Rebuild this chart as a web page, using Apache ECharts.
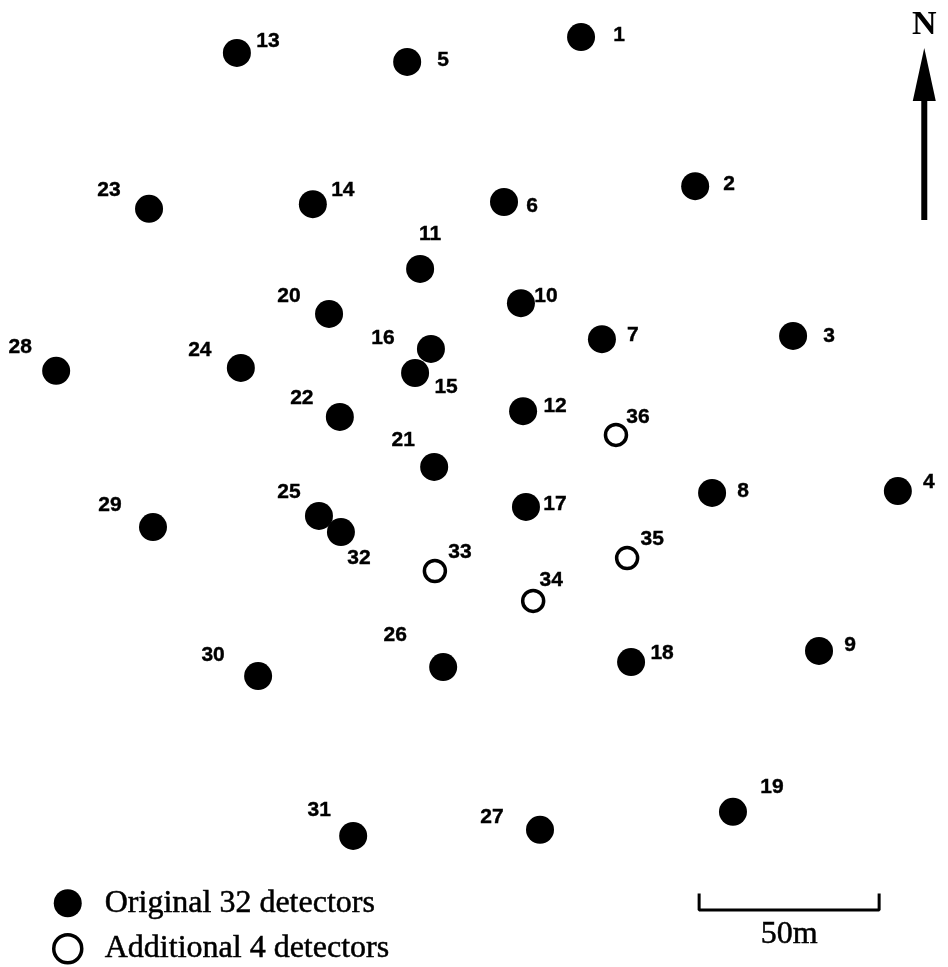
<!DOCTYPE html>
<html>
<head>
<meta charset="utf-8">
<title>Detector layout</title>
<script src="https://cdn.jsdelivr.net/npm/echarts@6/dist/echarts.min.js"></script>
<style>
  html, body { margin: 0; padding: 0; background: #fff; }
  #chart { width: 948px; height: 967px; }
</style>
</head>
<body>
<div id="chart"></div>
<script>
// Detector positions in metres (east, north) from the south-west corner of the plotted area.
const ORIG_ID = [1, 2, 3, 4, 5, 6, 7, 8, 9, 10, 11, 12, 13, 14, 15, 16,
                 17, 18, 19, 20, 21, 22, 23, 24, 25, 26, 27, 28, 29, 30, 31, 32];
const ORIG_E = [161.4, 193.1, 220.3, 249.4, 113.1, 140.0, 167.2, 197.8, 227.5, 144.7, 116.7, 145.3, 65.8, 86.9, 115.3, 119.7,
                146.1, 175.3, 203.6, 91.4, 120.6, 94.4, 41.4, 66.9, 88.6, 123.1, 150.0, 15.6, 42.5, 71.7, 98.1, 94.7];
const ORIG_N = [258.3, 216.9, 175.3, 132.2, 251.4, 212.5, 174.4, 131.7, 87.8, 184.4, 193.9, 154.4, 253.9, 211.9, 165.0, 171.7,
                127.8, 84.7, 43.1, 181.4, 138.9, 152.8, 210.6, 166.4, 125.3, 83.3, 38.1, 165.6, 122.2, 80.8, 36.4, 120.8];

const ADD_ID = [33, 34, 35, 36];
const ADD_E = [120.8, 148.1, 174.2, 171.1];
const ADD_N = [110.0, 101.7, 113.6, 147.8];

const SERIES_NAMES = ['Original 32 detectors', 'Additional 4 detectors'];
const SCALE_LENGTH_M = 50;
const SCALE_LABEL = '50m';
const NORTH_LABEL = 'N';

// Plot extent in metres (3.6 px per metre on the 948 x 967 canvas).
const EXTENT_E = 263.33;
const EXTENT_N = 268.61;

// Where each number label sits relative to its marker (pixels).
const LABEL_OFFSET = {
  1: [38, -2], 2: [34, -2], 3: [36, 0], 4: [31, -9], 5: [36, -2], 6: [28, 4],
  7: [31, -4], 8: [31, -2], 9: [31, -6], 10: [25, -7], 11: [10, -35], 12: [32, -5],
  13: [31, -12], 14: [30, -14], 15: [31, 14], 16: [-48, -11], 17: [29, -3], 18: [31, -9],
  19: [39, -25], 20: [-40, -18], 21: [-31, -27], 22: [-38, -19], 23: [-40, -19], 24: [-41, -18],
  25: [-30, -24], 26: [-48, -32], 27: [-48, -13], 28: [-36, -24], 29: [-43, -22], 30: [-45, -21],
  31: [-34, -26], 32: [18, 26], 33: [25, -19], 34: [18, -21], 35: [25, -19], 36: [22, -18]
};

// Scale bar anchor (metres) and tick height.
const SCALE_START = [194.2, 15.8];
const SCALE_TICK = 4.6;

const SERIF = 'Liberation Serif, Times New Roman, serif';
const labelFont = {
  fontFamily: 'Liberation Sans, Arial, sans-serif', fontWeight: 'bold', fontSize: 21, color: '#000',
  textBorderColor: '#000', textBorderWidth: 0.4
};

function points(ids, es, ns) {
  return ids.map((id, i) => ({
    value: [es[i], ns[i], id],
    label: { offset: LABEL_OFFSET[id] }
  }));
}

const scaleBar = [
  [SCALE_START[0], SCALE_START[1] + SCALE_TICK],
  [SCALE_START[0], SCALE_START[1]],
  [SCALE_START[0] + SCALE_LENGTH_M, SCALE_START[1]],
  [SCALE_START[0] + SCALE_LENGTH_M, SCALE_START[1] + SCALE_TICK]
];

const chart = echarts.init(document.getElementById('chart'), null, { renderer: 'canvas' });

const numberLabel = Object.assign({
  show: true,
  position: 'inside',
  align: 'center',
  verticalAlign: 'middle',
  formatter: p => String(p.value[2])
}, labelFont);

chart.setOption({
  backgroundColor: '#fff',
  animation: false,
  grid: { left: 0, right: 0, top: 0, bottom: 0 },
  xAxis: { type: 'value', min: 0, max: EXTENT_E, show: false },
  yAxis: { type: 'value', min: 0, max: EXTENT_N, show: false },
  legend: {
    orient: 'vertical',
    left: 52,
    top: 887,
    padding: 0,
    itemWidth: 28,
    itemHeight: 28,
    itemGap: 13,
    selectedMode: false,
    textStyle: {
      fontFamily: SERIF, fontSize: 32, color: '#000',
      textBorderColor: '#000', textBorderWidth: 0.5,
      padding: [0, 0, 0, 18]
    },
    data: [
      { name: SERIES_NAMES[0], icon: 'circle', itemStyle: { color: '#000', borderWidth: 0 } },
      { name: SERIES_NAMES[1], icon: 'circle', itemStyle: { color: '#fff', borderColor: '#000', borderWidth: 3.5 } }
    ]
  },
  series: [
    {
      name: SERIES_NAMES[0],
      type: 'scatter',
      symbol: 'circle',
      symbolSize: 28,
      itemStyle: { color: '#000', opacity: 1 },
      label: numberLabel,
      data: points(ORIG_ID, ORIG_E, ORIG_N),
      z: 3
    },
    {
      name: SERIES_NAMES[1],
      type: 'scatter',
      symbol: 'circle',
      symbolSize: 21,
      itemStyle: { color: '#fff', borderColor: '#000', borderWidth: 3.5, opacity: 1 },
      label: numberLabel,
      data: points(ADD_ID, ADD_E, ADD_N),
      z: 3
    },
    {
      name: 'scale',
      type: 'line',
      data: scaleBar,
      symbol: 'none',
      silent: true,
      lineStyle: { color: '#000', width: 3 },
      markPoint: {
        symbol: 'rect',
        symbolSize: 0,
        label: {
          show: true, formatter: SCALE_LABEL, fontFamily: SERIF, fontSize: 32, color: '#000',
          textBorderColor: '#000', textBorderWidth: 0.5, offset: [0, 24]
        },
        data: [{ coord: [SCALE_START[0] + SCALE_LENGTH_M / 2, SCALE_START[1]] }]
      }
    }
  ],
  graphic: [
    {
      type: 'group',
      left: 912,
      top: 8,
      children: [
        { type: 'text', x: 14, y: 14, style: { text: NORTH_LABEL, font: 'bold 34px "Liberation Serif", serif', fill: '#000', align: 'center', verticalAlign: 'middle' } },
        { type: 'polygon', shape: { points: [[14, 37], [2.5, 90], [25.5, 90]] }, style: { fill: '#000' } },
        { type: 'line', shape: { x1: 14, y1: 86, x2: 14, y2: 209 }, style: { stroke: '#000', lineWidth: 6 } }
      ]
    }
  ]
});
</script>
</body>
</html>
